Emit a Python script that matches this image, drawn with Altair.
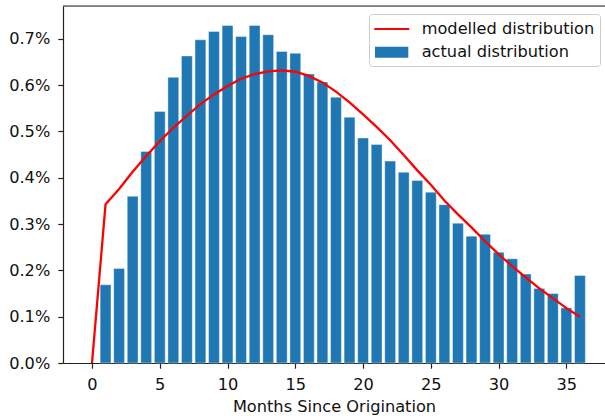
import altair as alt
import pandas as pd

# ---- data ----
months_line = list(range(0, 37))
modelled = [0.0, 0.343, 0.376, 0.413, 0.447, 0.479, 0.508, 0.534, 0.559, 0.580,
            0.598, 0.614, 0.624, 0.630, 0.632, 0.629, 0.620, 0.606, 0.586, 0.563,
            0.537, 0.510, 0.481, 0.449, 0.416, 0.385, 0.351, 0.321, 0.293, 0.263,
            0.235, 0.209, 0.185, 0.161, 0.140, 0.1185, 0.100]

months_bar = list(range(1, 37))
actual = [0.169, 0.204, 0.360, 0.457, 0.543, 0.617, 0.663, 0.698, 0.716, 0.729,
          0.705, 0.729, 0.709, 0.673, 0.669, 0.624, 0.607, 0.574, 0.531, 0.486,
          0.472, 0.436, 0.412, 0.394, 0.369, 0.342, 0.302, 0.274, 0.278, 0.239,
          0.225, 0.192, 0.161, 0.150, 0.119, 0.189]

series_names = ["modelled distribution", "actual distribution"]
series_colors = ["#ff0000", "#1f77b4"]
x_ticks = [0, 5, 10, 15, 20, 25, 30, 35]
y_ticks = [0.0, 0.1, 0.2, 0.3, 0.4, 0.5, 0.6, 0.7]
x_title = "Months Since Origination"

line_df = pd.DataFrame({"month": months_line, "pct": modelled, "series": series_names[0]})
bar_df = pd.DataFrame({"month": months_bar, "pct": actual, "series": series_names[1]})

W, H = 542, 357
FS = 16.2
FONT = "DejaVu Sans"
TXT = "#111111"

xscale = alt.Scale(domain=[-2.14, 37.85], nice=False, zero=False, padding=0)
yscale = alt.Scale(domain=[0, 0.771], nice=False, zero=True, padding=0)

line_shape = "M-0.97,-0.11H2.53V0.11H-0.97Z"
patch_shape = "M-0.9,-0.55H2.43V0.55H-0.9Z"

color = alt.Color(
    "series:N",
    scale=alt.Scale(domain=series_names, range=series_colors),
    legend=alt.Legend(
        title=None,
        orient="none",
        legendX=306,
        legendY=8,
        symbolSize=400,
        symbolStrokeWidth=0,
        symbolOpacity=1,
        symbolType={"expr": f"datum.value === '{series_names[0]}' ? '{line_shape}' : '{patch_shape}'"},
        labelOffset=27.7,
        rowPadding=4.3,
        padding=5,
        fillColor="rgba(255,255,255,0.8)",
        strokeColor="#cccccc",
        cornerRadius=3,
        labelFontSize=FS,
        labelFont=FONT,
        labelColor=TXT,
        labelLimit=400,
    ),
)

x_axis = alt.Axis(
    values=x_ticks, title=x_title, grid=False, tickSize=5.2, labelPadding=8.5,
    labelFontSize=FS, titleFontSize=FS, labelFont=FONT, titleFont=FONT,
    titleFontWeight="normal", titleColor=TXT, labelColor=TXT,
    domain=True, ticks=True, domainWidth=1.2, tickWidth=1.2,
    domainColor="#222222", tickColor="#222222", titlePadding=5.5, labelFlush=False,
)
y_axis = alt.Axis(
    values=y_ticks, title=None, grid=False, tickSize=5.2, labelPadding=8,
    labelFontSize=FS, labelFont=FONT, labelColor=TXT,
    domain=True, ticks=True, domainWidth=1.2, tickWidth=1.2,
    domainColor="#222222", tickColor="#222222",
    labelExpr="format(datum.value, '.1f') + '%'",
)

bars = (
    alt.Chart(bar_df)
    .transform_calculate(x0="datum.month - 0.4", x1="datum.month + 0.4")
    .mark_bar(stroke="white", strokeWidth=0.4, orient="vertical")
    .encode(
        x=alt.X("x0:Q", scale=xscale, axis=x_axis),
        x2="x1:Q",
        y=alt.Y("pct:Q", scale=yscale, axis=y_axis),
        y2=alt.datum(0),
        color=color,
    )
)

line = (
    alt.Chart(line_df)
    .mark_line(strokeWidth=2.3)
    .encode(
        x=alt.X("month:Q", scale=xscale),
        y=alt.Y("pct:Q", scale=yscale),
        color=color,
    )
)

top_border = (
    alt.Chart(pd.DataFrame({"k": [0]}))
    .mark_rule(color="#222222", strokeWidth=1.2)
    .encode(x=alt.value(0), x2=alt.value(W), y=alt.value(0))
)

chart = (
    alt.layer(bars, line, top_border)
    .properties(
        width=W, height=H,
        autosize=alt.AutoSizeParams(type="none"),
        padding={"left": 63, "top": 6, "right": 0, "bottom": 53},
    )
    .configure_view(stroke=None)
    .configure(background="white")
)

chart.save("out.html", embed_options={"renderer": "svg", "actions": False})
